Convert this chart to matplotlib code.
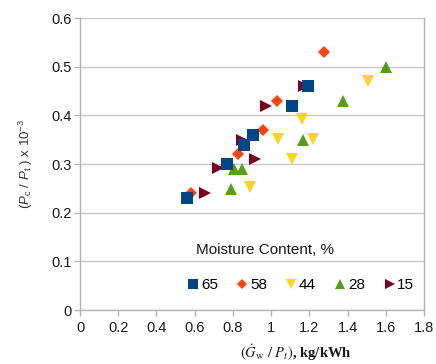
import matplotlib
matplotlib.use("Agg")
import matplotlib.pyplot as plt
from matplotlib.lines import Line2D

plt.rcParams['font.family'] = ['Liberation Sans', 'DejaVu Sans']
plt.rcParams['mathtext.fontset'] = 'custom'
plt.rcParams['mathtext.rm'] = 'Liberation Sans'
plt.rcParams['mathtext.it'] = 'Liberation Sans:italic'
plt.rcParams['mathtext.bf'] = 'Liberation Sans:bold'

# Data
mc65_x = [0.558, 0.767, 0.858, 0.907, 1.108, 1.195]
mc65_y = [0.230, 0.300, 0.340, 0.360, 0.420, 0.460]
mc58_x = [0.581, 0.829, 0.959, 1.029, 1.279]
mc58_y = [0.240, 0.320, 0.370, 0.430, 0.530]
mc44_x = [0.890, 1.038, 1.108, 1.160, 1.221, 1.509]
mc44_y = [0.252, 0.351, 0.311, 0.392, 0.351, 0.471]
mc28_x = [0.788, 0.806, 0.848, 1.169, 1.378, 1.601]
mc28_y = [0.249, 0.289, 0.289, 0.349, 0.429, 0.499]
mc15_x = [0.654, 0.724, 0.846, 0.916, 0.973, 1.170]
mc15_y = [0.240, 0.291, 0.349, 0.310, 0.420, 0.460]

labels = ['65', '58', '44', '28', '15']
colors = ['#004586', '#ff420e', '#ffd320', '#579d1c', '#7e0021']
markers = ['s', 'D', 'v', '^', '>']
sizes = [8.0, 6.0, 8.5, 8.5, 8.5]
xs = [mc65_x, mc58_x, mc44_x, mc28_x, mc15_x]
ys = [mc65_y, mc58_y, mc44_y, mc28_y, mc15_y]
zorders = [7, 6, 5, 4, 3]

W, H = 436, 364
fig = plt.figure(figsize=(W / 100, H / 100), dpi=100)
ax = fig.add_axes([80 / W, (H - 310) / H, 344 / W, 292 / H])

for x, y, c, m, s, z in zip(xs, ys, colors, markers, sizes, zorders):
    ax.plot(x, y, linestyle='none', marker=m, color=c, markersize=s,
            markeredgewidth=0, zorder=z)

ax.set_xlim(0, 1.8)
ax.set_ylim(0, 0.6)
ax.set_xticks([0, 0.2, 0.4, 0.6, 0.8, 1.0, 1.2, 1.4, 1.6, 1.8])
ax.set_xticklabels(['0', '0.2', '0.4', '0.6', '0.8', '1', '1.2', '1.4', '1.6', '1.8'])
ax.set_yticks([0, 0.1, 0.2, 0.3, 0.4, 0.5, 0.6])
ax.set_yticklabels(['0', '0.1', '0.2', '0.3', '0.4', '0.5', '0.6'])
ax.grid(axis='y', color='#c8c8c8', linewidth=1.0, zorder=0)
ax.set_axisbelow(True)
for sp in ax.spines.values():
    sp.set_color('#b3b3b3')
    sp.set_linewidth(1.0)
ax.spines['top'].set_visible(False)
ax.tick_params(axis='both', direction='out', length=4, width=1, color='#b3b3b3',
               labelsize=10.5, labelcolor='#1a1a1a')
ax.tick_params(axis='x', pad=4)
ax.tick_params(axis='y', pad=2)

ax.set_ylabel(r'$(P_{\rm c}\ /\ P_{\rm t}\ )$ x 10$^{-3}$', fontsize=9.5,
              color='#333333')
ax.yaxis.set_label_coords((35 - 80) / 344, 0.5)
ax.set_xlabel(r'$(\dot{G}_{\rm w}\ /\ P_t)$, kg/kWh', fontsize=10.5,
              family='Liberation Serif', fontweight='bold', color='#1a1a1a',
              math_fontfamily='stix')
ax.xaxis.set_label_coords((296 - 80) / 344, -(343 - 310) / 292)

ax.text((265 - 80) / 344, (310 - 250) / 292, 'Moisture Content, %',
        transform=ax.transAxes, ha='center', va='center', fontsize=11,
        color='#1a1a1a')

handles = [Line2D([], [], linestyle='none', marker=m, color=c, markersize=s * 0.9,
                  markeredgewidth=0) for c, m, s in zip(colors, markers, sizes)]
leg = ax.legend(handles, labels, ncol=5,
                loc='center', bbox_to_anchor=((301 - 80) / 344, (310 - 285) / 292),
                frameon=False, fontsize=11,
                handlelength=0.7, handletextpad=0.15, columnspacing=1.25,
                borderaxespad=0, borderpad=0)

fig.savefig('out.png', dpi=100)
